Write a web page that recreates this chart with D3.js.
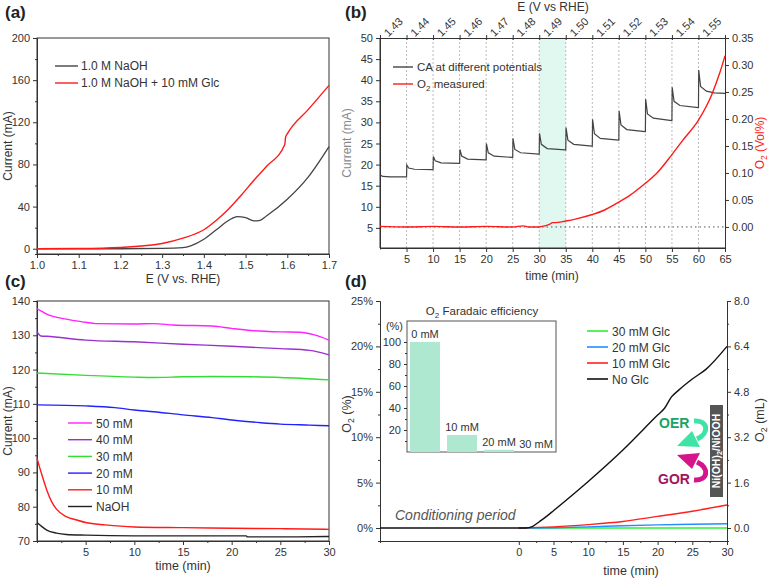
<!DOCTYPE html>
<html>
<head>
<meta charset="utf-8">
<script src="https://cdn.jsdelivr.net/npm/d3@7"></script>
<style>
  body { margin: 0; background: #fff; }
  text { font-family: 'Liberation Sans', Arial, sans-serif; }
  .axis path, .axis line { stroke: #333; }
  .axis text { fill: #333; font-size: 11px; }
</style>
</head>
<body>
<div id="chart"></div>
<script>
// ---------- data ----------
// (a) LSV curves, [E (V vs RHE), current (mA)]
const lsvNaOH = [[1.0,0],[1.2,0],[1.3,0.3],[1.35,1],[1.37,3],[1.4,9],[1.43,18],[1.46,27],[1.48,30.5],[1.5,29.5],
  [1.52,26.5],[1.535,27],[1.55,31],[1.6,47],[1.65,68],[1.7,97]]
const lsvGlc = [[1.0,0],[1.1,0.2],[1.2,1.2],[1.25,2.6],[1.3,5],[1.35,10],[1.4,18],[1.43,27],[1.46,38],[1.49,51],
  [1.52,65],[1.55,78],[1.594,99],[1.596,106],[1.6,109],[1.65,132],[1.7,155]]
const lsvTicksX = [1.0,1.1,1.2,1.3,1.4,1.5,1.6,1.7]
const lsvTicksY = [0,40,80,120,160,200]

// (b) chronoamperometry steps [time (min), current (mA)] and O2 [time, vol%]
const caCurve = [
  [0,17.6],[0.5,17.2],[2,17.1],[4.95,17.1],
  [5,17.1],[5.05,19.9],[5.4,19.2],[6.5,18.9],[9.95,18.8],
  [10,18.8],[10.05,21.9],[10.4,20.9],[11.5,20.4],[14.95,20.3],
  [15,20.3],[15.05,23.6],[15.4,22.0],[16.5,21.3],[19.95,21.1],
  [20,21.1],[20.05,25.0],[20.4,22.8],[21.5,22.0],[24.95,21.7],
  [25,21.7],[25.05,26.2],[25.4,23.6],[26.5,22.8],[29.95,22.5],
  [30,22.5],[30.05,27.4],[30.4,24.8],[31.5,23.8],[34.95,23.5],
  [35,23.5],[35.05,28.8],[35.4,25.8],[36.5,24.8],[39.95,24.4],
  [40,24.4],[40.05,30.7],[40.4,27.3],[41.5,26.2],[44.95,25.8],
  [45,25.8],[45.05,32.7],[45.4,29.4],[46.5,28.3],[49.95,27.8],
  [50,27.8],[50.05,35.5],[50.4,32.0],[51.5,31.0],[54.95,30.4],
  [55,30.4],[55.05,38.3],[55.4,35.0],[56.5,34.0],[59.95,33.5],
  [60,33.5],[60.05,42.4],[60.4,38.5],[61.5,37.4],[63,37.0],[65,36.9]
]
const o2Curve = [[0,0.001],[5,0],[10,0.001],[15,0],[20,0.001],[25,0],[27,0.002],[28,0],[30,0],[31,0.002],
  [32,0.005],[32.5,0.008],[33,0.008],[35,0.011],[37,0.015],[40,0.023],[42,0.03],[45,0.046],[47,0.058],
  [50,0.081],[52,0.098],[55,0.134],[57,0.16],[60,0.198],[62.5,0.245],[64,0.285],[65,0.317]]
const potentials = ['1.43','1.44','1.45','1.46','1.47','1.48','1.49','1.50','1.51','1.52','1.53','1.54','1.55']
const caTicksX = [5,10,15,20,25,30,35,40,45,50,55,60,65]
const caTicksY = [5,10,15,20,25,30,35,40,45,50]
const o2TicksY = [0,0.05,0.10,0.15,0.20,0.25,0.30,0.35]

// (c) CA at glucose concentrations [time (min), current (mA)]
const caSeries = [
  { name: '50 mM', color: '#ff22ff', values: [[0,137.7],[0.3,137.3],[1,136.2],[3,134.7],[5,133.8],[6,133.4],[10,133.3],
    [12,133.4],[14,133.0],[18,132.7],[20,132.0],[22,131.4],[25,131.0],[27,130.9],[28.5,130.1],[30,128.6]] },
  { name: '40 mM', color: '#9b30d0', values: [[0,131.0],[0.4,129.8],[1,129.7],[5,128.6],[10,128.1],[15,127.4],
    [20,126.8],[25,126.1],[28,125.6],[30,124.3]] },
  { name: '30 mM', color: '#33dd33', values: [[0,119.0],[5,118.3],[10,117.8],[12,117.7],[15,117.9],[18,118.0],
    [22,117.9],[25,117.7],[30,117.0]] },
  { name: '20 mM', color: '#2222ff', values: [[0,109.7],[5,109.4],[8,108.9],[10,108.2],[12,107.7],[15,106.8],
    [18,106.0],[20,105.3],[23,104.5],[25,104.1],[28,103.8],[30,103.6]] },
  { name: '10 mM', color: '#ff1a1a', values: [[0,94.1],[0.5,89.3],[1,84.9],[1.5,81.5],[2,79.3],[3,77.1],[4,76.2],
    [5,75.4],[7,74.7],[10,74.1],[15,73.9],[20,73.7],[25,73.6],[30,73.4]] },
  { name: 'NaOH', color: '#222', values: [[0,75.4],[0.5,74.2],[1,73.2],[2,72.3],[3,71.9],[5,71.7],[10,71.5],
    [15,71.5],[21.5,71.5],[21.6,71.2],[25,71.2],[30,71.3]] }
]
const glcTicksX = [5,10,15,20,25,30]
const glcTicksY = [70,80,90,100,110,120,130,140]

// (d) O2 volume [time (min), mL]
const o2Series = [
  { name: '30 mM Glc', color: '#33ee33', values: [[0,0],[10,0],[20,0],[30,0]] },
  { name: '20 mM Glc', color: '#1e90ff', values: [[0,0],[5,0.01],[10,0.04],[15,0.08],[20,0.11],[25,0.13],[30,0.15]] },
  { name: '10 mM Glc', color: '#ff2020', values: [[0,0],[5,0.04],[10,0.12],[15,0.23],[20,0.41],[25,0.59],[30,0.81]] },
  { name: 'No Glc', color: '#111', values: [[-20,0],[1,0],[2,0.06],[3,0.23],[4,0.41],[5,0.61],[10,1.64],[15,2.75],
    [20,3.98],[21,4.22],[22,4.62],[23,4.85],[25,5.25],[27,5.6],[30,6.4]] }
]
const o2TicksPct = [0,5,10,15,20,25]
const o2TicksML = [0,1.6,3.2,4.8,6.4,8.0]
const timeTicksD = [0,5,10,15,20,25,30]

// inset: O2 faradaic efficiency
const feCats = ['0 mM','10 mM','20 mM','30 mM']
const feValues = [100, 15.5, 2, 0]
const feTicks = [20,40,60,80,100]

// ---------- drawing ----------
const svg = d3.select('#chart').append('svg').attr('width', 770).attr('height', 579)

function frame(g, x0, x1, y0, y1) {
    g.append('rect').attr('x', x0).attr('y', y0).attr('width', x1 - x0).attr('height', y1 - y0)
        .attr('fill', 'none').attr('stroke', '#333')
}
function label(g, txt, x, y, opt = {}) {
    const t = g.append('text').attr('x', x).attr('y', y)
        .attr('font-size', opt.size || 12).attr('fill', opt.color || '#333')
        .attr('text-anchor', opt.anchor || 'middle')
    if (opt.rotate) t.attr('transform', `rotate(${opt.rotate},${x},${y})`)
    if (opt.weight) t.attr('font-weight', opt.weight)
    if (opt.style) t.attr('font-style', opt.style)
    if (txt) t.text(txt)
    return t
}
function o2Text(t, rest) {
    t.append('tspan').text('O')
    t.append('tspan').attr('font-size', '70%').attr('dy', 3).text('2')
    t.append('tspan').attr('dy', -3).text(rest)
}
function axis(g, ax, transform, color) {
    const a = g.append('g').attr('class', 'axis').attr('transform', transform).call(ax)
    if (color) {
        a.selectAll('path, line').attr('stroke', color)
        a.selectAll('text').attr('fill', color)
    }
    return a
}
function minors(ticks, step) {
    const out = []
    for (let i = 0; i < ticks.length - 1; i++) out.push(ticks[i] + step)
    return out
}

// panel labels
;[['(a)', 5, 18], ['(b)', 345, 18], ['(c)', 5, 287], ['(d)', 345, 287]].forEach(p => {
    label(svg, p[0], p[1], p[2], { size: 17, weight: 'bold', anchor: 'start', color: '#222' })
})

// ===== (a) =====
{
    const g = svg.append('g')
    const x = d3.scaleLinear().domain([1.0, 1.7]).range([37, 329])
    const y = d3.scaleLinear().domain([-5, 200]).range([254, 38])
    frame(g, 37, 329, 38, 254)
    axis(g, d3.axisBottom(x).tickValues(lsvTicksX).tickSize(4).tickSizeOuter(0).tickFormat(d3.format('.1f')), 'translate(0,254)')
    axis(g, d3.axisBottom(x).tickValues(minors(lsvTicksX, 0.05)).tickSize(2).tickFormat(''), 'translate(0,254)')
    axis(g, d3.axisLeft(y).tickValues(lsvTicksY).tickSize(4).tickSizeOuter(0), 'translate(37,0)')
    axis(g, d3.axisLeft(y).tickValues(minors(lsvTicksY, 20)).tickSize(2).tickFormat(''), 'translate(37,0)')
    const line = d3.line().x(d => x(d[0])).y(d => y(d[1])).curve(d3.curveMonotoneX)
    g.append('path').datum(lsvNaOH).attr('d', line).attr('fill', 'none').attr('stroke', '#444').attr('stroke-width', 1.3)
    g.append('path').datum(lsvGlc).attr('d', line).attr('fill', 'none').attr('stroke', '#ff1a1a').attr('stroke-width', 1.4)
    label(g, 'E (V vs. RHE)', 183, 283, { size: 12 })
    label(g, 'Current (mA)', 12, 146, { size: 12, rotate: -90 })
    const leg = [['1.0 M NaOH', '#444'], ['1.0 M NaOH + 10 mM Glc', '#ff1a1a']]
    leg.forEach((l, i) => {
        g.append('line').attr('x1', 55).attr('x2', 78).attr('y1', 66 + i * 17).attr('y2', 66 + i * 17)
            .attr('stroke', l[1]).attr('stroke-width', 1.4)
        label(g, l[0], 81, 70 + i * 17, { anchor: 'start', size: 12 })
    })
}

// ===== (b) =====
{
    const g = svg.append('g')
    const L = 380, R = 725, T = 38, B = 248
    const x = d3.scaleLinear().domain([0, 65]).range([L, R])
    const y = d3.scaleLinear().domain([0, 50]).range([249, T])
    const yR = d3.scaleLinear().domain([-0.039, 0.35]).range([B, T])
    g.append('rect').attr('x', x(30)).attr('y', T).attr('width', x(35) - x(30)).attr('height', B - T).attr('fill', '#e0f8f0')
    caTicksX.slice(0, -1).forEach(t => {
        g.append('line').attr('x1', x(t)).attr('x2', x(t)).attr('y1', T).attr('y2', B)
            .attr('stroke', '#bbb').attr('stroke-dasharray', '2,2')
    })
    g.append('line').attr('x1', L).attr('x2', R).attr('y1', yR(0)).attr('y2', yR(0))
        .attr('stroke', '#555').attr('stroke-dasharray', '1.5,3')
    g.append('line').attr('x1', L).attr('x2', R).attr('y1', B).attr('y2', B).attr('stroke', '#333')
    axis(g, d3.axisBottom(x).tickValues(caTicksX).tickSize(4).tickSizeOuter(0), `translate(0,${B})`)
    axis(g, d3.axisLeft(y).tickValues(caTicksY).tickSize(4).tickSizeOuter(0), `translate(${L},0)`)
    g.append('line').attr('x1', L).attr('x2', L).attr('y1', T).attr('y2', B).attr('stroke', '#333')
    axis(g, d3.axisTop(x).tickValues([0].concat(caTicksX)).tickSize(3).tickSizeOuter(0).tickFormat(''), `translate(0,${T})`)
    axis(g, d3.axisBottom(x).tickValues([0].concat(caTicksX)).tickSize(2).tickSizeOuter(0).tickFormat(''), `translate(0,${T})`)
    axis(g, d3.axisRight(yR).tickValues(o2TicksY).tickSize(4).tickSizeOuter(0).tickFormat(d3.format('.2f')), `translate(${R},0)`, '#ff1a1a')
    potentials.forEach((p, i) => {
        const cx = x(2.5 + i * 5)
        label(g, p, cx, 27, { size: 11, rotate: -45 }).attr('dy', '0.35em')
    })
    label(g, 'E (V vs RHE)', 553, 11, { size: 12 })
    const lineL = d3.line().x(d => x(d[0])).y(d => y(d[1]))
    const lineR = d3.line().x(d => x(d[0])).y(d => yR(d[1])).curve(d3.curveMonotoneX)
    g.append('path').datum(caCurve).attr('d', lineL).attr('fill', 'none').attr('stroke', '#444').attr('stroke-width', 1.2)
    g.append('path').datum(o2Curve).attr('d', lineR).attr('fill', 'none').attr('stroke', '#ff1a1a').attr('stroke-width', 1.4)
    label(g, 'time (min)', 552, 280, { size: 12 })
    label(g, 'Current (mA)', 351, 143, { size: 12, rotate: -90, color: '#888' })
    o2Text(label(g, '', 764, 143, { size: 12, rotate: -90, color: '#ff2020' }), ' (Vol%)')
    g.append('line').attr('x1', 393).attr('x2', 413).attr('y1', 67).attr('y2', 67).attr('stroke', '#444').attr('stroke-width', 1.4)
    label(g, 'CA at different potentials', 417, 71, { anchor: 'start', size: 11.5 })
    g.append('line').attr('x1', 393).attr('x2', 413).attr('y1', 84).attr('y2', 84).attr('stroke', '#ff1a1a').attr('stroke-width', 1.4)
    o2Text(label(g, '', 417, 88, { anchor: 'start', size: 11.5 }), ' measured')
}

// ===== (c) =====
{
    const g = svg.append('g')
    const L = 37, R = 329, T = 301, B = 541
    const x = d3.scaleLinear().domain([0, 30]).range([L, R])
    const y = d3.scaleLinear().domain([70, 140]).range([B, T])
    frame(g, L, R, T, B)
    axis(g, d3.axisBottom(x).tickValues(glcTicksX).tickSize(4).tickSizeOuter(0), `translate(0,${B})`)
    axis(g, d3.axisBottom(x).tickValues([2.5].concat(minors(glcTicksX, 2.5))).tickSize(2).tickFormat(''), `translate(0,${B})`)
    axis(g, d3.axisLeft(y).tickValues(glcTicksY).tickSize(4).tickSizeOuter(0), `translate(${L},0)`)
    axis(g, d3.axisLeft(y).tickValues(minors(glcTicksY, 5)).tickSize(2).tickFormat(''), `translate(${L},0)`)
    const line = d3.line().x(d => x(d[0])).y(d => y(d[1])).curve(d3.curveMonotoneX)
    caSeries.forEach((s, i) => {
        g.append('path').datum(s.values).attr('d', line).attr('fill', 'none').attr('stroke', s.color).attr('stroke-width', 1.4)
        const ly = 423 + i * 16.7
        g.append('line').attr('x1', 68).attr('x2', 92).attr('y1', ly).attr('y2', ly).attr('stroke', s.color).attr('stroke-width', 1.4)
        label(g, s.name, 96, ly + 4.5, { anchor: 'start', size: 12 })
    })
    label(g, 'time (min)', 183, 570, { size: 12.5 })
    label(g, 'Current (mA)', 12, 421, { size: 12, rotate: -90 })
}

// ===== (d) =====
{
    const g = svg.append('g')
    const L = 380, R = 727, T = 301, B = 541
    const x = d3.scaleLinear().domain([-20, 30]).range([L, R])
    const y = d3.scaleLinear().domain([-0.458, 8]).range([B, T])
    const yPct = d3.scaleLinear().domain([-0.458 * 25 / 8, 25]).range([B, T])
    axis(g, d3.axisBottom(x).tickValues(timeTicksD).tickSize(4).tickSizeOuter(0), `translate(0,${B})`)
    axis(g, d3.axisBottom(x).tickValues(minors(timeTicksD, 2.5)).tickSize(2).tickFormat(''), `translate(0,${B})`)
    axis(g, d3.axisLeft(yPct).tickValues(o2TicksPct).tickSize(4).tickSizeOuter(0).tickFormat(d => d + '%'), `translate(${L},0)`)
    axis(g, d3.axisLeft(yPct).tickValues(minors(o2TicksPct, 2.5)).tickSize(2).tickFormat(''), `translate(${L},0)`)
    axis(g, d3.axisRight(y).tickValues(o2TicksML).tickSize(4).tickSizeOuter(0).tickFormat(d3.format('.1f')), `translate(${R},0)`)
    axis(g, d3.axisRight(y).tickValues(minors(o2TicksML, 0.8)).tickSize(2).tickFormat(''), `translate(${R},0)`)
    const line = d3.line().x(d => x(d[0])).y(d => y(d[1])).curve(d3.curveMonotoneX)
    o2Series.forEach((s, i) => {
        g.append('path').datum(s.values).attr('d', line).attr('fill', 'none').attr('stroke', s.color).attr('stroke-width', 1.4)
        const ly = 331 + i * 16
        g.append('line').attr('x1', 587).attr('x2', 608).attr('y1', ly).attr('y2', ly).attr('stroke', s.color).attr('stroke-width', 1.6)
        label(g, s.name, 612, ly + 4.5, { anchor: 'start', size: 12 })
    })
    label(g, 'time (min)', 631, 575, { size: 12.5 })
    o2Text(label(g, '', 351, 414, { size: 12.5, rotate: -90 }), ' (%)')
    o2Text(label(g, '', 764, 420, { size: 12.5, rotate: -90 }), ' (mL)')
    label(g, 'Conditioning period', 395, 520, { size: 14, anchor: 'start', style: 'italic', color: '#555' })

    // inset: faradaic efficiency
    const iy = d3.scaleLinear().domain([0, 119.1]).range([452, 321])
    const ix = d3.scaleBand().domain(feCats).range([406.5, 554.5]).paddingInner(0.19).paddingOuter(0.095)
    g.append('rect').attr('x', 407).attr('y', 321).attr('width', 149).attr('height', 131)
        .attr('fill', '#fff').attr('stroke', '#555')
    g.selectAll('.fe').data(feValues).enter().append('rect')
        .attr('x', (d, i) => ix(feCats[i])).attr('width', ix.bandwidth())
        .attr('y', d => iy(d)).attr('height', d => 452 - iy(d))
        .attr('fill', '#aee8d0')
    feValues.forEach((v, i) => {
        label(g, feCats[i], ix(feCats[i]) + ix.bandwidth() / 2, iy(v) - 4, { size: 11 })
    })
    axis(g, d3.axisLeft(iy).tickValues(feTicks).tickSize(3).tickSizeOuter(0), 'translate(407,0)')
        .select('.domain').remove()
    axis(g, d3.axisLeft(iy).tickValues([10, 30, 50, 70, 90]).tickSize(2).tickFormat(''), 'translate(407,0)')
        .select('.domain').remove()
    label(g, '(%)', 403, 330, { size: 11, anchor: 'end' })
    o2Text(label(g, '', 482, 315, { size: 11.5 }), ' Faradaic efficiency')

    // Ni(OH)2/NiOOH box with OER / GOR arrows
    g.append('rect').attr('x', 710).attr('y', 405).attr('width', 13).attr('height', 92).attr('fill', '#555')
    const nt = label(g, '', 720, 451, { size: 10.5, rotate: -90, color: '#fff', weight: 'bold' })
    nt.append('tspan').text('Ni(OH)')
    nt.append('tspan').attr('font-size', '70%').attr('dy', 2).text('2')
    nt.append('tspan').attr('dy', -2).text('/NiOOH')
    label(g, 'OER', 659, 428, { size: 14, anchor: 'start', weight: 'bold', color: '#1aa364' })
    label(g, 'GOR', 658, 484, { size: 14, anchor: 'start', weight: 'bold', color: '#a4125f' })
    g.append('path').attr('d', 'M694,421 C708,420 710,433 697,439').attr('fill', 'none')
        .attr('stroke', '#3fe3a5').attr('stroke-width', 5)
    g.append('path').attr('d', 'M677,446 L692,431 L700,447 Z').attr('fill', '#3fe3a5')
    g.append('path').attr('d', 'M694,480 C708,481 710,468 697,462').attr('fill', 'none')
        .attr('stroke', '#d4168a').attr('stroke-width', 5)
    g.append('path').attr('d', 'M677,455 L700,453 L692,469 Z').attr('fill', '#d4168a')
}
</script>
</body>
</html>
